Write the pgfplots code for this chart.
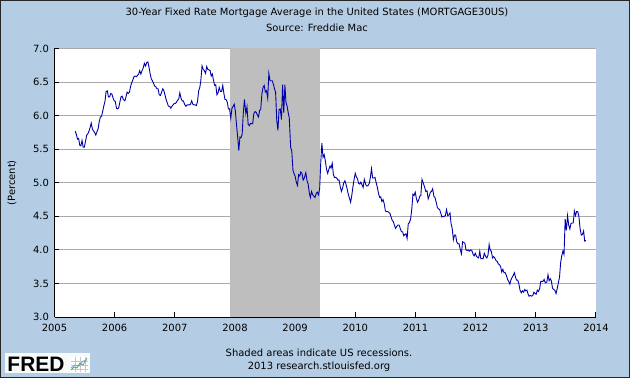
\documentclass[border=0pt]{standalone}
\usepackage{pgfplots}
\usepackage{pgfplotstable}
\pgfplotsset{compat=1.18}
\usepackage{fontspec}
\setmainfont{DejaVu Sans}
\newfontfamily\fredfont{Liberation Sans}
\definecolor{fredbg}{RGB}{180,205,228}
\definecolor{fredline}{RGB}{0,0,170}
\definecolor{recgray}{RGB}{190,190,190}
\definecolor{gridgray}{RGB}{170,170,170}
\definecolor{logobg}{RGB}{248,249,250}
% weekly data: year month day value
\pgfplotstableread{
yr mo dy value
2005 5 5 5.77
2005 5 12 5.72
2005 5 19 5.65
2005 5 26 5.66
2005 6 2 5.56
2005 6 9 5.55
2005 6 16 5.63
2005 6 23 5.53
2005 6 30 5.53
2005 7 7 5.62
2005 7 14 5.71
2005 7 21 5.73
2005 7 28 5.77
2005 8 4 5.82
2005 8 11 5.89
2005 8 18 5.80
2005 8 25 5.77
2005 9 1 5.75
2005 9 8 5.71
2005 9 15 5.76
2005 9 22 5.80
2005 9 29 5.91
2005 10 6 5.98
2005 10 13 5.99
2005 10 20 6.07
2005 10 27 6.15
2005 11 3 6.21
2005 11 10 6.36
2005 11 17 6.37
2005 11 24 6.28
2005 12 1 6.28
2005 12 8 6.33
2005 12 15 6.32
2005 12 22 6.26
2005 12 29 6.22
2006 1 5 6.21
2006 1 12 6.11
2006 1 19 6.10
2006 1 26 6.12
2006 2 2 6.20
2006 2 9 6.28
2006 2 16 6.29
2006 2 23 6.24
2006 3 2 6.22
2006 3 9 6.28
2006 3 16 6.35
2006 3 23 6.33
2006 3 30 6.35
2006 4 6 6.43
2006 4 13 6.49
2006 4 20 6.53
2006 4 27 6.58
2006 5 4 6.59
2006 5 11 6.58
2006 5 18 6.60
2006 5 25 6.62
2006 6 1 6.67
2006 6 8 6.62
2006 6 15 6.67
2006 6 22 6.71
2006 6 29 6.78
2006 7 6 6.74
2006 7 13 6.79
2006 7 20 6.80
2006 7 27 6.72
2006 8 3 6.63
2006 8 10 6.55
2006 8 17 6.52
2006 8 24 6.48
2006 8 31 6.44
2006 9 7 6.43
2006 9 14 6.40
2006 9 21 6.40
2006 9 28 6.31
2006 10 5 6.30
2006 10 12 6.35
2006 10 19 6.40
2006 10 26 6.37
2006 11 2 6.31
2006 11 9 6.24
2006 11 16 6.19
2006 11 23 6.14
2006 11 30 6.14
2006 12 7 6.11
2006 12 14 6.14
2006 12 21 6.16
2006 12 28 6.18
2007 1 4 6.18
2007 1 11 6.20
2007 1 18 6.23
2007 1 25 6.25
2007 2 1 6.34
2007 2 8 6.26
2007 2 15 6.22
2007 2 22 6.22
2007 3 1 6.16
2007 3 8 6.14
2007 3 15 6.16
2007 3 22 6.16
2007 3 29 6.16
2007 4 5 6.17
2007 4 12 6.22
2007 4 19 6.17
2007 4 26 6.16
2007 5 3 6.16
2007 5 10 6.15
2007 5 17 6.21
2007 5 24 6.37
2007 5 31 6.42
2007 6 7 6.53
2007 6 14 6.74
2007 6 21 6.69
2007 6 28 6.67
2007 7 5 6.63
2007 7 12 6.73
2007 7 19 6.69
2007 7 26 6.68
2007 8 2 6.67
2007 8 9 6.59
2007 8 16 6.62
2007 8 23 6.52
2007 8 30 6.45
2007 9 6 6.46
2007 9 13 6.31
2007 9 20 6.34
2007 9 27 6.42
2007 10 4 6.36
2007 10 11 6.36
2007 10 18 6.45
2007 10 25 6.33
2007 11 1 6.24
2007 11 8 6.24
2007 11 15 6.20
2007 11 22 6.10
2007 11 29 6.10
2007 12 6 5.96
2007 12 13 6.11
2007 12 20 6.14
2007 12 27 6.17
2008 1 3 6.07
2008 1 10 5.87
2008 1 17 5.69
2008 1 24 5.48
2008 1 31 5.68
2008 2 7 5.67
2008 2 14 5.72
2008 2 21 6.04
2008 2 28 6.24
2008 3 6 6.03
2008 3 13 6.13
2008 3 20 5.87
2008 3 27 5.85
2008 4 3 5.88
2008 4 10 5.88
2008 4 17 5.88
2008 4 24 6.03
2008 5 1 6.06
2008 5 8 6.05
2008 5 15 6.01
2008 5 22 5.98
2008 5 29 6.08
2008 6 5 6.09
2008 6 12 6.32
2008 6 19 6.42
2008 6 26 6.45
2008 7 3 6.35
2008 7 10 6.37
2008 7 17 6.26
2008 7 24 6.63
2008 7 31 6.52
2008 8 7 6.52
2008 8 14 6.52
2008 8 21 6.47
2008 8 28 6.40
2008 9 4 6.35
2008 9 11 5.93
2008 9 18 5.78
2008 9 25 6.09
2008 10 2 6.10
2008 10 9 5.94
2008 10 16 6.46
2008 10 23 6.04
2008 10 30 6.46
2008 11 6 6.20
2008 11 13 6.14
2008 11 20 6.04
2008 11 26 5.97
2008 12 4 5.53
2008 12 11 5.47
2008 12 18 5.19
2008 12 24 5.14
2008 12 31 5.10
2009 1 8 5.01
2009 1 15 4.96
2009 1 22 5.12
2009 1 29 5.10
2009 2 5 5.16
2009 2 12 5.14
2009 2 19 5.04
2009 2 26 5.07
2009 3 5 5.15
2009 3 12 5.03
2009 3 19 4.98
2009 3 26 4.85
2009 4 2 4.78
2009 4 9 4.87
2009 4 16 4.82
2009 4 23 4.80
2009 4 30 4.78
2009 5 7 4.84
2009 5 14 4.86
2009 5 21 4.82
2009 5 28 4.91
2009 6 4 5.29
2009 6 11 5.59
2009 6 18 5.38
2009 6 25 5.42
2009 7 2 5.32
2009 7 9 5.20
2009 7 16 5.14
2009 7 23 5.20
2009 7 30 5.25
2009 8 6 5.22
2009 8 13 5.29
2009 8 20 5.12
2009 8 27 5.08
2009 9 3 5.08
2009 9 10 5.07
2009 9 17 5.04
2009 9 24 5.04
2009 10 1 4.94
2009 10 8 4.87
2009 10 15 4.92
2009 10 22 5.00
2009 10 29 5.03
2009 11 5 4.98
2009 11 12 4.91
2009 11 19 4.83
2009 11 25 4.78
2009 12 3 4.71
2009 12 10 4.81
2009 12 17 4.94
2009 12 24 5.05
2009 12 31 5.14
2010 1 7 5.09
2010 1 14 5.06
2010 1 21 4.99
2010 1 28 4.98
2010 2 4 5.01
2010 2 11 4.97
2010 2 18 4.93
2010 2 25 5.05
2010 3 4 4.97
2010 3 11 4.95
2010 3 18 4.96
2010 3 25 4.99
2010 4 1 5.08
2010 4 8 5.21
2010 4 15 5.07
2010 4 22 5.07
2010 4 29 5.08
2010 5 6 5.00
2010 5 13 4.93
2010 5 20 4.84
2010 5 27 4.78
2010 6 3 4.79
2010 6 10 4.72
2010 6 17 4.75
2010 6 24 4.69
2010 7 1 4.58
2010 7 8 4.57
2010 7 15 4.57
2010 7 22 4.56
2010 7 29 4.54
2010 8 5 4.49
2010 8 12 4.44
2010 8 19 4.42
2010 8 26 4.36
2010 9 2 4.32
2010 9 9 4.35
2010 9 16 4.37
2010 9 23 4.37
2010 9 30 4.32
2010 10 7 4.27
2010 10 14 4.27
2010 10 21 4.21
2010 10 28 4.23
2010 11 4 4.24
2010 11 11 4.17
2010 11 18 4.39
2010 11 24 4.40
2010 12 2 4.46
2010 12 9 4.61
2010 12 16 4.83
2010 12 23 4.81
2010 12 30 4.86
2011 1 6 4.77
2011 1 13 4.71
2011 1 20 4.74
2011 1 27 4.80
2011 2 3 4.81
2011 2 10 5.05
2011 2 17 5.00
2011 2 24 4.95
2011 3 3 4.87
2011 3 10 4.88
2011 3 17 4.76
2011 3 24 4.81
2011 3 31 4.86
2011 4 7 4.87
2011 4 14 4.91
2011 4 21 4.80
2011 4 28 4.78
2011 5 5 4.71
2011 5 12 4.63
2011 5 19 4.61
2011 5 26 4.60
2011 6 2 4.55
2011 6 9 4.49
2011 6 16 4.50
2011 6 23 4.50
2011 6 30 4.51
2011 7 7 4.60
2011 7 14 4.51
2011 7 21 4.52
2011 7 28 4.55
2011 8 4 4.39
2011 8 11 4.32
2011 8 18 4.15
2011 8 25 4.22
2011 9 1 4.22
2011 9 8 4.12
2011 9 15 4.09
2011 9 22 4.09
2011 9 29 4.01
2011 10 6 3.94
2011 10 13 4.12
2011 10 20 4.11
2011 10 27 4.10
2011 11 3 4.00
2011 11 10 3.99
2011 11 17 4.00
2011 11 23 3.98
2011 12 1 4.00
2011 12 8 3.99
2011 12 15 3.94
2011 12 22 3.91
2011 12 29 3.95
2012 1 5 3.91
2012 1 12 3.89
2012 1 19 3.88
2012 1 26 3.98
2012 2 2 3.87
2012 2 9 3.87
2012 2 16 3.87
2012 2 23 3.95
2012 3 1 3.90
2012 3 8 3.88
2012 3 15 3.92
2012 3 22 4.08
2012 3 29 3.99
2012 4 5 3.98
2012 4 12 3.88
2012 4 19 3.90
2012 4 26 3.88
2012 5 3 3.84
2012 5 10 3.83
2012 5 17 3.79
2012 5 24 3.78
2012 5 31 3.75
2012 6 7 3.67
2012 6 14 3.71
2012 6 21 3.66
2012 6 28 3.66
2012 7 5 3.62
2012 7 12 3.56
2012 7 19 3.53
2012 7 26 3.49
2012 8 2 3.55
2012 8 9 3.59
2012 8 16 3.62
2012 8 23 3.66
2012 8 30 3.59
2012 9 6 3.55
2012 9 13 3.55
2012 9 20 3.49
2012 9 27 3.40
2012 10 4 3.36
2012 10 11 3.39
2012 10 18 3.37
2012 10 25 3.41
2012 11 1 3.39
2012 11 8 3.40
2012 11 15 3.34
2012 11 21 3.31
2012 11 29 3.32
2012 12 6 3.31
2012 12 13 3.32
2012 12 20 3.37
2012 12 27 3.35
2013 1 3 3.34
2013 1 10 3.40
2013 1 17 3.38
2013 1 24 3.42
2013 1 31 3.53
2013 2 7 3.53
2013 2 14 3.53
2013 2 21 3.56
2013 2 28 3.51
2013 3 7 3.52
2013 3 14 3.63
2013 3 21 3.54
2013 3 28 3.57
2013 4 4 3.54
2013 4 11 3.43
2013 4 18 3.41
2013 4 25 3.40
2013 5 2 3.35
2013 5 9 3.42
2013 5 16 3.51
2013 5 23 3.59
2013 5 30 3.81
2013 6 6 3.91
2013 6 13 3.98
2013 6 20 3.93
2013 6 27 4.46
2013 7 4 4.29
2013 7 11 4.51
2013 7 18 4.37
2013 7 25 4.31
2013 8 1 4.39
2013 8 8 4.40
2013 8 15 4.40
2013 8 22 4.58
2013 8 29 4.51
2013 9 5 4.57
2013 9 12 4.57
2013 9 19 4.50
2013 9 26 4.32
2013 10 3 4.22
2013 10 10 4.23
2013 10 17 4.28
2013 10 24 4.13
2013 10 31 4.14
}\mortgage

\begin{document}
\begin{tikzpicture}
\fill[fredbg] (0,0) rectangle (630bp,378bp);
\begin{axis}[
  at={(54.5bp,61bp)}, anchor=south west,
  scale only axis, width=541.5bp, height=268.5bp,
  xmin=2005, xmax=2014,
  xtick={2005,2006,2007,2008,2009,2010,2011,2012,2013,2014},
  ymin=3, ymax=7, ytick={3,3.5,4,4.5,5,5.5,6,6.5,7},
  axis x line=bottom, axis y line=left,
  tick align=inside,
  major tick length=5bp,
  ymajorgrids,
  grid style={gridgray, line width=1bp},
  axis background/.style={fill=white},
  axis line style={black, line width=1bp, -},
  tick style={black, line width=1bp},
  /pgf/number format/assume math mode=true,
  xticklabel style={/pgf/number format/1000 sep={}, yshift=-4bp},
  yticklabel style={/pgf/number format/fixed, /pgf/number format/fixed zerofill, /pgf/number format/precision=1, xshift=-2bp},
  ticklabel style={font=\fontsize{10}{12}\selectfont},
  ylabel={(Percent)},
  ylabel style={at={(axis description cs:-0.0785,0.5)}, anchor=center, font=\fontsize{10}{12}\selectfont},
]
\addplot[fill=recgray, draw=none] coordinates {(2007.917,3) (2007.917,7) (2009.417,7) (2009.417,3)};
\addplot[fredline, line width=0.9bp] table[x expr={\thisrow{yr}+(\thisrow{mo}-1)/12+(\thisrow{dy}-1)/365}, y=value] {\mortgage};
\end{axis}
\node[font=\fontsize{10}{12}\selectfont] at (317bp,365bp) {30-Year Fixed Rate Mortgage Average in the United States (MORTGAGE30US)};
\node[font=\fontsize{10}{12}\selectfont] at (317bp,350.5bp) {Source: Freddie Mac};
\node[font=\fontsize{10}{12}\selectfont] at (319bp,25.5bp) {Shaded areas indicate US recessions.};
\node[font=\fontsize{10}{12}\selectfont] at (319bp,11.5bp) {2013 research.stlouisfed.org};
\fill[logobg] (5bp,5.3bp) rectangle (90bp,25.3bp);
\node[anchor=base west, inner sep=0pt] at (7.3bp,7bp) {\fredfont\bfseries\fontsize{21}{21}\selectfont FRED};
\fill[white] (71bp,6bp) rectangle (88bp,21bp);
\draw[gray!45, line width=0.4bp] (71bp,9bp) -- (88bp,9bp) (71bp,13bp) -- (88bp,13bp) (71bp,17bp) -- (88bp,17bp) (75bp,6bp) -- (75bp,21bp) (80bp,6bp) -- (80bp,21bp) (85bp,6bp) -- (85bp,21bp);
\draw[green!55!black!70, line width=0.8bp] (71bp,8bp) -- (74bp,11bp) -- (77bp,10bp) -- (80bp,15bp) -- (83bp,13bp) -- (87bp,20bp);
\draw[blue!50, line width=0.6bp] (71bp,10bp) -- (75bp,13bp) -- (79bp,12bp) -- (83bp,17bp) -- (87bp,18bp);
\draw[black!85, line width=1bp] (0.5bp,0.5bp) rectangle (629.5bp,377.5bp);
\end{tikzpicture}
\end{document}
